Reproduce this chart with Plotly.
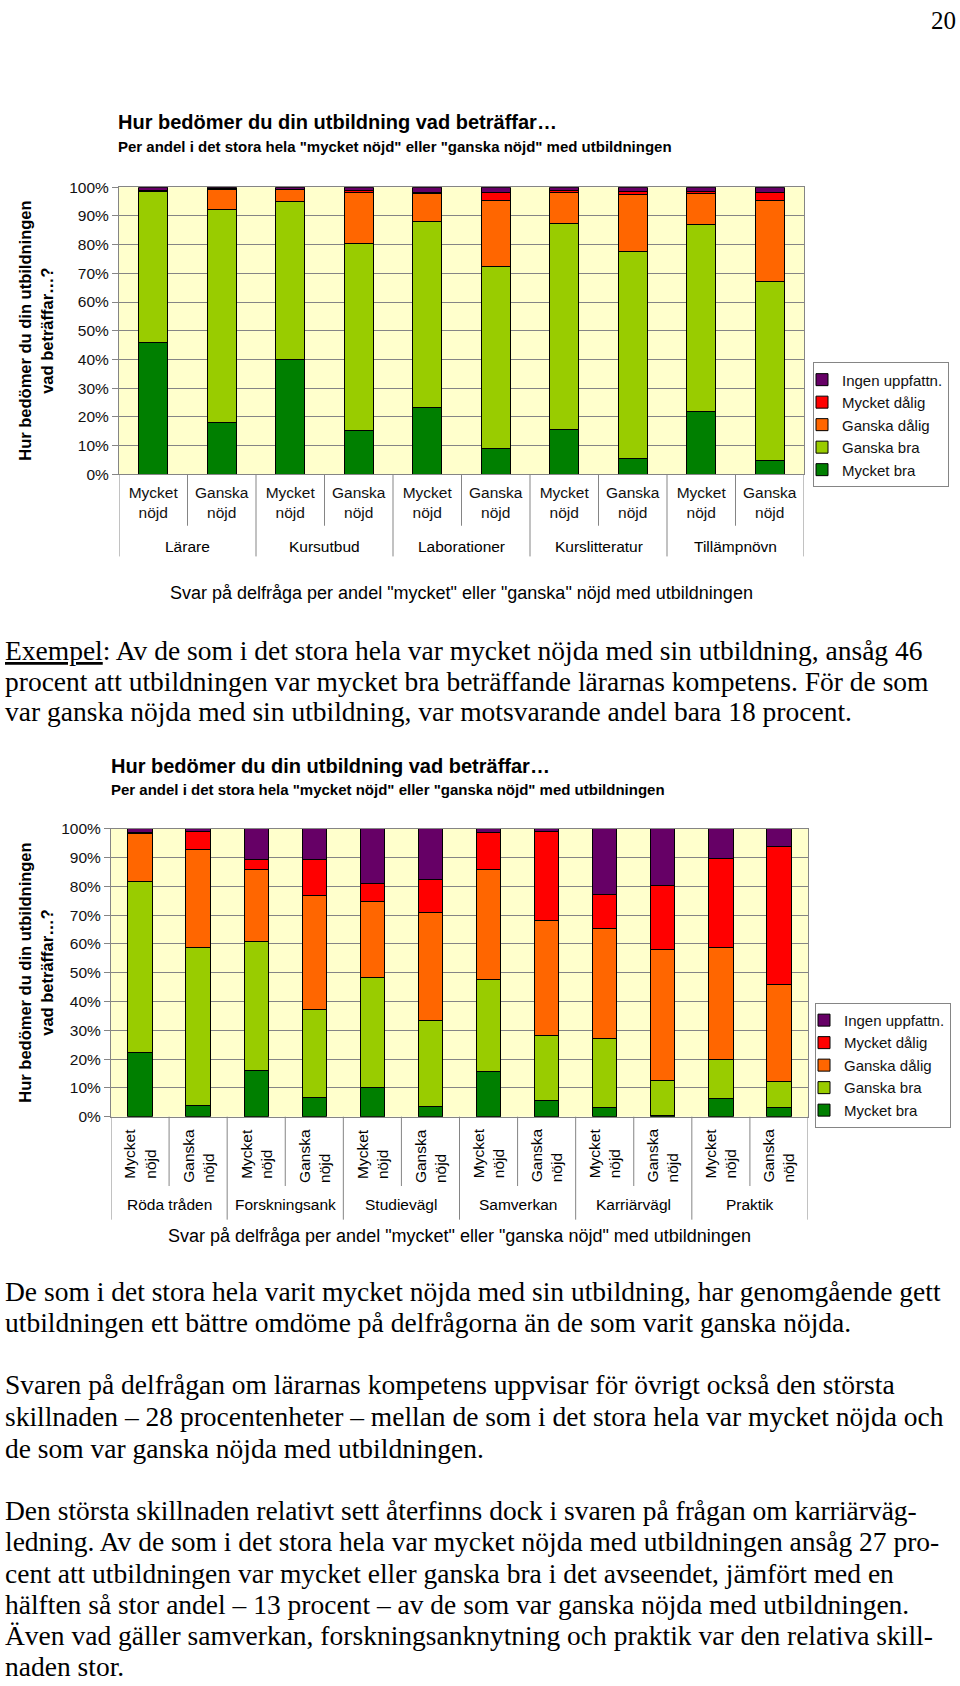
import plotly.graph_objects as go

# ---------------- data ----------------
series_names = ["Mycket bra", "Ganska bra", "Ganska dålig", "Mycket dålig", "Ingen uppfattn."]
series_colors = ["#007F00", "#99CC00", "#FF6600", "#FF0000", "#660066"]
sub_labels = ["Mycket<br>nöjd", "Ganska<br>nöjd"]

groups1 = ["Lärare", "Kursutbud", "Laborationer", "Kurslitteratur", "Tillämpnövn"]
mycket_bra_1 = [46.0, 18.0, 40.0, 15.4, 23.4, 9.0, 15.5, 5.5, 21.8, 4.8]
ganska_bra_1 = [52.5, 74.4, 55.0, 65.1, 64.5, 63.2, 72.0, 72.2, 65.3, 62.4]
ganska_dalig_1 = [0.5, 6.9, 4.2, 17.5, 9.9, 23.3, 10.7, 19.9, 10.8, 28.3]
mycket_dalig_1 = [0.0, 0.2, 0.0, 1.0, 0.5, 2.8, 0.5, 0.8, 0.6, 2.8]
ingen_1 = [1.0, 0.5, 0.8, 1.0, 1.7, 1.7, 1.3, 1.6, 1.5, 1.7]

groups2 = ["Röda tråden", "Forskningsank", "Studievägl", "Samverkan", "Karriärvägl", "Praktik"]
mycket_bra_2 = [22.4, 4.0, 16.1, 6.6, 10.3, 3.5, 15.6, 5.7, 3.3, 0.5, 6.2, 3.3]
ganska_bra_2 = [59.1, 54.9, 44.8, 30.6, 38.2, 30.0, 32.2, 22.6, 24.0, 12.2, 13.6, 9.1]
ganska_dalig_2 = [16.7, 33.8, 24.9, 39.6, 26.2, 37.3, 38.0, 39.8, 38.0, 45.5, 38.9, 33.6]
mycket_dalig_2 = [0.5, 6.2, 3.6, 12.6, 6.2, 11.4, 12.8, 31.0, 12.0, 22.1, 30.9, 47.9]
ingen_2 = [1.3, 1.1, 10.6, 10.6, 19.1, 17.8, 1.4, 0.9, 22.7, 19.7, 10.4, 6.1]

y_ticks = [0, 10, 20, 30, 40, 50, 60, 70, 80, 90, 100]
y_ticktext = ["0%", "10%", "20%", "30%", "40%", "50%", "60%", "70%", "80%", "90%", "100%"]

title_main = "Hur bedömer du din utbildning vad beträffar…"
title_sub = 'Per andel i det stora hela "mycket nöjd" eller "ganska nöjd" med utbildningen'
ytitle = "Hur bedömer du din utbildningen<br>vad beträffar…?"
xtitle1 = 'Svar på delfråga per andel "mycket" eller "ganska" nöjd med utbildningen'
xtitle2 = 'Svar på delfråga per andel "mycket" eller "ganska nöjd" med utbildningen'

para1 = [
    "<u>Exempel</u>: Av de som i det stora hela var mycket nöjda med sin utbildning, ansåg 46",
    "procent att utbildningen var mycket bra beträffande lärarnas kompetens. För de som",
    "var ganska nöjda med sin utbildning, var motsvarande andel bara 18 procent.",
]
para2 = [
    "De som i det stora hela varit mycket nöjda med sin utbildning, har genomgående gett",
    "utbildningen ett bättre omdöme på delfrågorna än de som varit ganska nöjda.",
]
para3 = [
    "Svaren på delfrågan om lärarnas kompetens uppvisar för övrigt också den största",
    "skillnaden – 28 procentenheter – mellan de som i det stora hela var mycket nöjda och",
    "de som var ganska nöjda med utbildningen.",
]
para4 = [
    "Den största skillnaden relativt sett återfinns dock i svaren på frågan om karriärväg-",
    "ledning. Av de som i det stora hela var mycket nöjda med utbildningen ansåg 27 pro-",
    "cent att utbildningen var mycket eller ganska bra i det avseendet, jämfört med en",
    "hälften så stor andel – 13 procent – av de som var ganska nöjda med utbildningen.",
    "Även vad gäller samverkan, forskningsanknytning och praktik var den relativa skill-",
    "naden stor.",
]
page_number = "20"

# ---------------- layout helpers ----------------
W, H = 960, 1686
def px(x):
    return x / W
def py(y):
    return 1 - y / H

SANS = "Liberation Sans, Arial, sans-serif"
SERIF = "Liberation Serif, Times New Roman, serif"
GRID = "#858585"

fig = go.Figure()

data1 = [mycket_bra_1, ganska_bra_1, ganska_dalig_1, mycket_dalig_1, ingen_1]
data2 = [mycket_bra_2, ganska_bra_2, ganska_dalig_2, mycket_dalig_2, ingen_2]
n1 = len(mycket_bra_1)
n2 = len(mycket_bra_2)
x1 = list(range(n1))
x2 = list(range(n2))

for name, color, vals in zip(series_names, series_colors, data1):
    fig.add_trace(go.Bar(x=x1, y=vals, name=name, marker=dict(color=color, line=dict(color="black", width=1)),
                         xaxis="x", yaxis="y", legend="legend"))
for name, color, vals in zip(series_names, series_colors, data2):
    fig.add_trace(go.Bar(x=x2, y=vals, name=name, marker=dict(color=color, line=dict(color="black", width=1)),
                         xaxis="x2", yaxis="y2", legend="legend2"))

# chart geometry (pixels)
c1 = dict(left=119, right=804, top=180, bottom=470)
c2 = dict(left=111, right=808, top=828, bottom=1119)

tickfont = dict(family=SANS, size=15.5, color="#111")

fig.update_layout(
    width=W, height=H, margin=dict(l=0, r=0, t=0, b=0),
    paper_bgcolor="white", plot_bgcolor="#FFFFCC",
    barmode="stack", bargap=0.58, showlegend=True,
    xaxis=dict(domain=[px(c1["left"]), px(c1["right"])], range=[-0.5, n1 - 0.5], anchor="y",
               tickvals=x1, ticktext=[sub_labels[i % 2] for i in x1], tickfont=tickfont,
               ticks="", showgrid=False, zeroline=False, showline=True, linecolor=GRID, mirror=True,
               ticklabelstandoff=4),
    yaxis=dict(domain=[py(c1["bottom"]), py(c1["top"])], range=[0, 100], anchor="x",
               tickvals=y_ticks, ticktext=y_ticktext, tickfont=tickfont, ticks="outside", ticklen=6,
               tickcolor=GRID, showgrid=True, gridcolor=GRID, gridwidth=1, zeroline=False,
               showline=True, linecolor=GRID, mirror=True),
    xaxis2=dict(domain=[px(c2["left"]), px(c2["right"])], range=[-0.5, n2 - 0.5], anchor="y2",
                tickvals=x2, showticklabels=False, ticks="", showgrid=False, zeroline=False,
                showline=True, linecolor=GRID, mirror=True),
    yaxis2=dict(domain=[py(c2["bottom"]), py(c2["top"])], range=[0, 100], anchor="x2",
                tickvals=y_ticks, ticktext=y_ticktext, tickfont=tickfont, ticks="outside", ticklen=6,
                tickcolor=GRID, showgrid=True, gridcolor=GRID, gridwidth=1, zeroline=False,
                showline=True, linecolor=GRID, mirror=True),
    legend=dict(x=px(813), y=py(357), xanchor="left", yanchor="top", bgcolor="white",
                bordercolor=GRID, borderwidth=1, font=dict(family=SANS, size=15, color="#111"),
                traceorder="reversed", itemwidth=30, indentation=-12),
    legend2=dict(x=px(815), y=py(1004), xanchor="left", yanchor="top", bgcolor="white",
                 bordercolor=GRID, borderwidth=1, font=dict(family=SANS, size=15, color="#111"),
                 traceorder="reversed", itemwidth=30, indentation=-12),
)

ann = []
shapes = []

def text(x, y, s, size, family=SANS, bold=False, xanchor="left", yanchor="middle", angle=0, align="left", xref="paper"):
    ann.append(dict(x=x if xref != "paper" else px(x), y=py(y), xref=xref, yref="paper",
                    text=f"<b>{s}</b>" if bold else s, showarrow=False,
                    xanchor=xanchor, yanchor=yanchor, textangle=angle, align=align,
                    font=dict(family=family, size=size, color="black")))

# page number
text(958, 12, page_number, 25, family=SERIF, xanchor="right")

# chart 1 titles
text(116, 114, title_main, 20, bold=True)
text(116, 139, title_sub, 15, bold=True)
text(36, (c1["top"] + c1["bottom"]) / 2, ytitle, 16.5, bold=True, xanchor="center", angle=-90, align="center")
text((c1["left"] + c1["right"]) / 2, 590, xtitle1, 18, xanchor="center")

# chart 1 group labels and dividers
for g, lab in enumerate(groups1):
    text(2 * g + 0.5, 543, lab, 15.5, xanchor="center", xref="x")
for k in range(n1 + 1):
    xv = k - 0.5
    end = 553 if k % 2 == 0 else 522
    shapes.append(dict(type="line", xref="x", yref="paper", x0=xv, x1=xv, y0=py(c1["bottom"]), y1=py(end),
                       line=dict(color=GRID, width=1)))

SER = 27.5
# paragraph 1
for i, line in enumerate(para1):
    text(3, 648 + i * 31, line, SER, family=SERIF)

# chart 2 titles
text(109, 765, title_main, 20, bold=True)
text(109, 788, title_sub, 15, bold=True)
text(36, (c2["top"] + c2["bottom"]) / 2, ytitle, 16.5, bold=True, xanchor="center", angle=-90, align="center")
text((c2["left"] + c2["right"]) / 2, 1239, xtitle2, 18, xanchor="center")

for k in x2:
    text(k, 1129, sub_labels[k % 2], 15.5, xanchor="center", yanchor="top", angle=-90, align="left", xref="x2")
for g, lab in enumerate(groups2):
    text(2 * g + 0.5, 1208, lab, 15.5, xanchor="center", xref="x2")
for k in range(n2 + 1):
    xv = k - 0.5
    end = 1223 if k % 2 == 0 else 1189
    shapes.append(dict(type="line", xref="x2", yref="paper", x0=xv, x1=xv, y0=py(c2["bottom"]), y1=py(end),
                       line=dict(color=GRID, width=1)))

# paragraphs below chart 2
for i, line in enumerate(para2):
    text(3, 1296 + i * 31, line, SER, family=SERIF)
for i, line in enumerate(para3):
    text(3, 1390 + i * 32, line, SER, family=SERIF)
for i, line in enumerate(para4):
    text(3, 1517 + i * 31.5, line, SER, family=SERIF)

fig.update_layout(annotations=ann, shapes=shapes)
fig.write_html("out.html", config={"displayModeBar": False},
               post_script="document.body.style.margin='0';document.body.style.overflow='hidden';")
